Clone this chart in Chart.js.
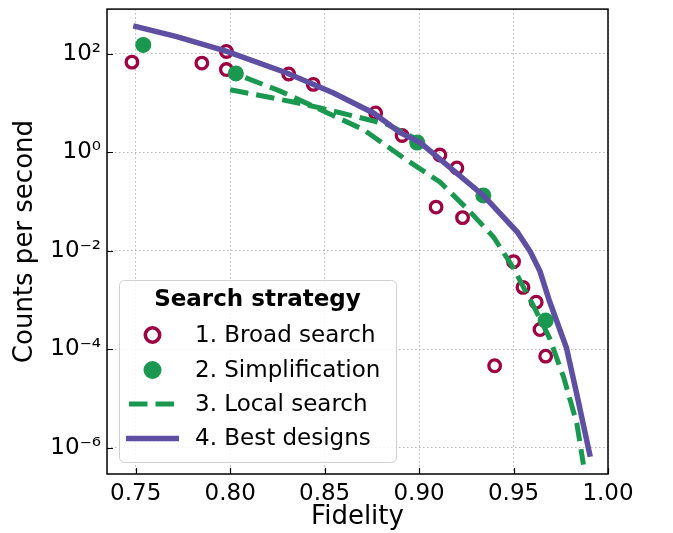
<!DOCTYPE html>
<html>
<head>
<meta charset="utf-8">
<script src="https://cdn.jsdelivr.net/npm/chart.js@4"></script>
<style>
  body { margin: 0; background: #fff; }
  #wrap { width: 673px; height: 533px; }
</style>
</head>
<body>
<div id="wrap"><canvas id="chart"></canvas></div>
<script>
// values
const broadX = [0.748, 0.754, 0.785, 0.798, 0.798, 0.803, 0.831, 0.844, 0.877, 0.891, 0.899,
  0.909, 0.911, 0.920, 0.923, 0.934, 0.940, 0.950, 0.955, 0.962, 0.964, 0.967, 0.967];
const broadY = [68, 152, 65, 112, 48, 40, 39, 24, 6.3, 2.2, 1.58,
  0.077, 0.88, 0.48, 0.047, 0.133, 4.6e-5, 0.006, 0.0018, 0.0009, 0.00025, 3.8e-4, 7.2e-5];
const simpX = [0.754, 0.803, 0.899, 0.934, 0.967];
const simpY = [152, 40, 1.58, 0.133, 3.8e-4];
const localX = [0.808, 0.8265, 0.8476, 0.8705, 0.8926, 0.911, 0.9253, 0.9394, 0.950,
  0.962, 0.969, 0.9765, 0.9835, 0.987];
const localY = [33, 17.5, 7.4, 2.9, 0.73, 0.25, 0.072, 0.019, 0.0044,
  5.9e-4, 1.7e-4, 2.7e-5, 3.1e-6, 4.5e-7];
const localBranchX = [0.800, 0.8335, 0.8476, 0.865, 0.883, 0.897];
const localBranchY = [18.7, 10.5, 8.0, 5.5, 3.7, 2.0];
const bestX = [0.7487, 0.7717, 0.7982, 0.830, 0.8547, 0.8758, 0.890, 0.9006, 0.934,
  0.952, 0.9589, 0.964, 0.969, 0.978, 0.9835, 0.9906];
const bestY = [372, 224, 112, 41, 16, 6.3, 2.5, 1.58, 0.133,
  0.024, 0.0095, 0.0038, 9.5e-4, 1.07e-4, 1.2e-5, 6.5e-7];
const xTicks = [0.75, 0.80, 0.85, 0.90, 0.95, 1.00];
const yTicks = [1e-6, 1e-4, 1e-2, 1, 1e2];
const yTickLabels = ["10⁻⁶", "10⁻⁴", "10⁻²", "10⁰", "10²"];
const legendTitle = "Search strategy";
const legendLabels = ["1. Broad search", "2. Simplification", "3. Local search", "4. Best designs"];

const RED = "#9e0142", GREEN = "#1a9850", PURPLE = "#5e4fa2";
const FONT = "'DejaVu Sans', sans-serif";

function pairs(xs, ys) {
  return xs.map((x, i) => ({ x: x, y: ys[i] }));
}

function noPad(s) {
  s.paddingTop = 0; s.paddingBottom = 0;
  s.paddingLeft = 0; s.paddingRight = 0;
}

Chart.defaults.font.family = FONT;
Chart.defaults.color = "#000";

// frame, inward ticks and the boxed legend
const extras = {
  id: "extras",
  afterDraw(chart) {
    const ctx = chart.ctx, a = chart.chartArea;
    const sx = chart.scales.x, sy = chart.scales.y;
    ctx.save();
    ctx.setLineDash([]);
    ctx.strokeStyle = "#000";
    ctx.lineWidth = 1.2;
    ctx.beginPath();
    xTicks.forEach(v => {
      const p = Math.round(sx.getPixelForValue(v)) + 0.5;
      ctx.moveTo(p, a.bottom); ctx.lineTo(p, a.bottom - 6);
    });
    yTicks.forEach(v => {
      const p = Math.round(sy.getPixelForValue(v)) + 0.5;
      ctx.moveTo(a.left, p); ctx.lineTo(a.left + 6, p);
    });
    ctx.stroke();
    ctx.lineWidth = 1.5;
    ctx.strokeRect(a.left, a.top, a.right - a.left, a.bottom - a.top);

    // legend
    const w = 277, h = 182;
    const bx = a.left + 12, by = a.bottom - 12 - h;
    ctx.beginPath();
    ctx.roundRect(bx + 0.5, by + 0.5, w, h, 5);
    ctx.fillStyle = "rgba(255,255,255,0.85)";
    ctx.fill();
    ctx.strokeStyle = "#d0d0d0";
    ctx.lineWidth = 1;
    ctx.stroke();

    ctx.fillStyle = "#000";
    ctx.textBaseline = "middle";
    ctx.textAlign = "center";
    ctx.font = "bold 23px " + FONT;
    ctx.fillText(legendTitle, bx + w / 2, by + 20);

    const rows = [55, 90, 124, 158.5];
    const mx = bx + 33.5, tx = bx + 76;
    // 1. open circle
    ctx.beginPath();
    ctx.arc(mx, by + rows[0], 7.2, 0, Math.PI * 2);
    ctx.strokeStyle = RED; ctx.lineWidth = 3.6; ctx.stroke();
    // 2. filled dot
    ctx.beginPath();
    ctx.arc(mx, by + rows[1], 9, 0, Math.PI * 2);
    ctx.fillStyle = GREEN; ctx.fill();
    // 3. dashed
    ctx.beginPath();
    ctx.setLineDash([18.5, 8]);
    ctx.moveTo(mx - 23.5, by + rows[2]); ctx.lineTo(mx + 24.5, by + rows[2]);
    ctx.strokeStyle = GREEN; ctx.lineWidth = 5; ctx.lineCap = "butt"; ctx.stroke();
    ctx.setLineDash([]);
    // 4. solid
    ctx.beginPath();
    ctx.moveTo(mx - 26.5, by + rows[3]); ctx.lineTo(mx + 26.5, by + rows[3]);
    ctx.strokeStyle = PURPLE; ctx.lineWidth = 5.5; ctx.stroke();

    ctx.fillStyle = "#000";
    ctx.textAlign = "left";
    ctx.font = "23px " + FONT;
    legendLabels.forEach((t, i) => ctx.fillText(t, tx, by + rows[i] + 1));
    ctx.restore();
  }
};

new Chart(document.getElementById("chart"), {
  type: "scatter",
  data: {
    datasets: [
      {
        label: legendLabels[3],
        data: pairs(bestX, bestY),
        showLine: true,
        borderColor: PURPLE,
        borderWidth: 5.5,
        pointRadius: 0,
        tension: 0,
        order: 0
      },
      {
        label: legendLabels[2],
        data: pairs(localX, localY),
        showLine: true,
        borderColor: GREEN,
        borderWidth: 5,
        borderDash: [18.5, 8],
        borderCapStyle: "butt",
        pointRadius: 0,
        tension: 0,
        order: 1
      },
      {
        label: "local branch",
        data: pairs(localBranchX, localBranchY),
        showLine: true,
        borderColor: GREEN,
        borderWidth: 5,
        borderDash: [18.5, 8],
        borderCapStyle: "butt",
        pointRadius: 0,
        tension: 0,
        order: 1
      },
      {
        label: legendLabels[1],
        data: pairs(simpX, simpY),
        backgroundColor: GREEN,
        borderColor: GREEN,
        borderWidth: 0,
        pointRadius: 8,
        pointHoverRadius: 8,
        order: 2
      },
      {
        label: legendLabels[0],
        data: pairs(broadX, broadY),
        backgroundColor: "rgba(0,0,0,0)",
        borderColor: RED,
        borderWidth: 3.3,
        pointRadius: 5.8,
        pointHoverRadius: 5.8,
        order: 3
      }
    ]
  },
  options: {
    responsive: true,
    maintainAspectRatio: false,
    animation: false,
    layout: { padding: { top: 6, right: 65, left: 0, bottom: 0 } },
    plugins: { legend: { display: false }, tooltip: { enabled: false } },
    scales: {
      x: {
        type: "linear",
        min: 0.7348,
        max: 1.0,
        afterBuildTicks: s => { s.ticks = xTicks.map(v => ({ value: v })); },
        afterFit: s => { s.height = 59; noPad(s); },
        ticks: {
          callback: v => v.toFixed(2),
          font: { size: 23 },
          padding: 6,
          maxRotation: 0
        },
        grid: { color: "#b8b8b8", lineWidth: 1, drawTicks: false },
        border: { display: false, dash: [1.5, 2.5] },
        title: {
          display: true,
          text: "Fidelity",
          font: { size: 26 },
          padding: { top: 0, bottom: 0 }
        }
      },
      y: {
        type: "logarithmic",
        min: 2.9e-7,
        max: 813,
        afterBuildTicks: s => { s.ticks = yTicks.map(v => ({ value: v })); },
        afterFit: s => { s.width = 107; noPad(s); },
        ticks: {
          callback: v => yTickLabels[yTicks.indexOf(v)],
          font: { size: 23 },
          padding: 6
        },
        grid: { color: "#b8b8b8", lineWidth: 1, drawTicks: false },
        border: { display: false, dash: [1.5, 2.5] },
        title: {
          display: true,
          text: "Counts per second",
          font: { size: 26 },
          padding: { top: 10, bottom: 0 }
        }
      }
    }
  },
  plugins: [extras]
});
</script>
</body>
</html>
